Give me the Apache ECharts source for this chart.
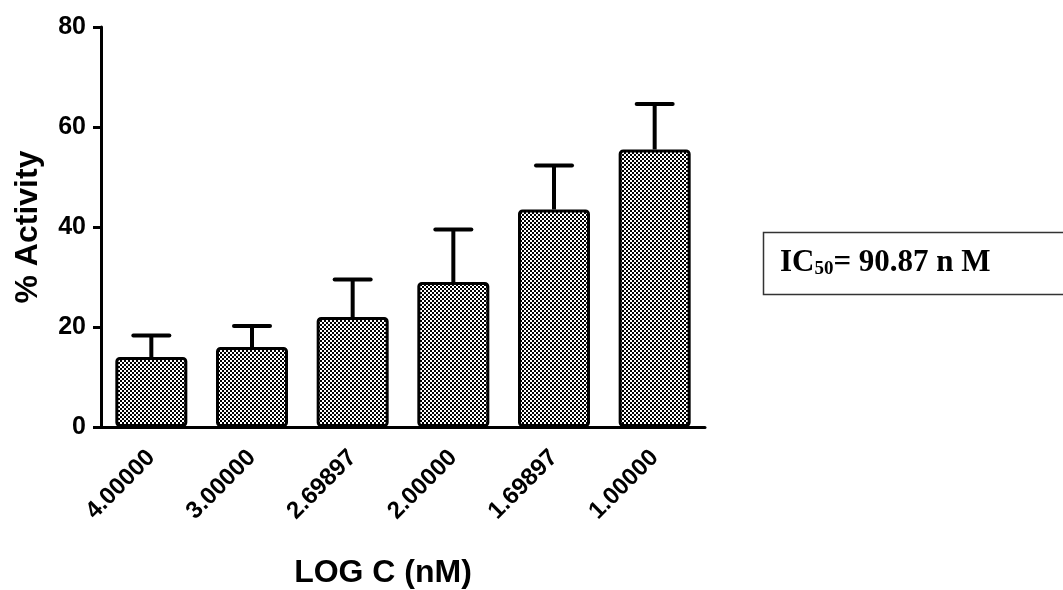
<!DOCTYPE html>
<html>
<head>
<meta charset="utf-8">
<script src="https://cdn.jsdelivr.net/npm/echarts@6/dist/echarts.min.js"></script>
<style>
  html, body { margin: 0; padding: 0; background: #fff; }
  #chart { width: 1063px; height: 590px; }
</style>
</head>
<body>
<div id="chart"></div>
<script>
// data
var categories = ['4.00000', '3.00000', '2.69897', '2.00000', '1.69897', '1.00000'];
var activity = [14.0, 16.0, 22.0, 29.0, 43.5, 55.5];
var upperError = [18.3, 20.2, 29.5, 39.5, 52.3, 64.6];
var yTicks = [0, 20, 40, 60, 80];

// checkered fill for the bars
function makePattern() {
  var c = document.createElement('canvas');
  c.width = 4; c.height = 4;
  var ctx = c.getContext('2d');
  ctx.fillStyle = '#fff';
  ctx.fillRect(0, 0, 4, 4);
  ctx.fillStyle = '#000';
  ctx.fillRect(0, 0, 2, 2);
  ctx.fillRect(2, 2, 2, 2);
  return c;
}

var chart = echarts.init(document.getElementById('chart'));
var font = 'Liberation Sans, Arial, sans-serif';

var errData = activity.map(function (v, i) { return [i, v, upperError[i]]; });

var option = {
  animation: false,
  grid: { left: 101, top: 27, width: 604, height: 400, outerBoundsMode: 'none', containLabel: false },
  xAxis: {
    type: 'category',
    data: categories,
    name: 'LOG C (nM)',
    nameLocation: 'middle',
    nameGap: 130,
    nameTextStyle: { fontFamily: font, fontWeight: 'bold', fontSize: 32, color: '#000', padding: [0, 40, 0, 0] },
    axisLine: { lineStyle: { color: '#000', width: 3 } },
    axisTick: { alignWithLabel: true, length: 12, lineStyle: { color: '#000', width: 3 } },
    axisLabel: { rotate: 45, margin: 27, fontFamily: font, fontWeight: 'bold', fontSize: 24, color: '#000' }
  },
  yAxis: {
    type: 'value',
    min: yTicks[0],
    max: yTicks[yTicks.length - 1],
    interval: 20,
    name: '% Activity',
    nameLocation: 'middle',
    nameGap: 57,
    nameTextStyle: { fontFamily: font, fontWeight: 'bold', fontSize: 32, color: '#000' },
    splitLine: { show: false },
    axisLine: { show: true, lineStyle: { color: '#000', width: 3 } },
    axisTick: { show: true, length: 8, lineStyle: { color: '#000', width: 3 } },
    axisLabel: { margin: 15, fontFamily: font, fontWeight: 'bold', fontSize: 25, color: '#000' }
  },
  series: [
    {
      type: 'bar',
      data: activity,
      barWidth: 72,
      itemStyle: {
        color: { image: makePattern(), repeat: 'repeat' },
        borderColor: '#000',
        borderWidth: 3,
        borderRadius: 3
      }
    },
    {
      type: 'custom',
      data: errData,
      z: 1,
      renderItem: function (params, api) {
        var base = api.coord([api.value(0), api.value(1)]);
        var top = api.coord([api.value(0), api.value(2)]);
        var half = 18;
        return {
          type: 'group',
          children: [
            { type: 'line', shape: { x1: base[0], y1: base[1], x2: top[0], y2: top[1] },
              style: { stroke: '#000', lineWidth: 4 } },
            { type: 'line', shape: { x1: top[0] - half, y1: top[1], x2: top[0] + half, y2: top[1] },
              style: { stroke: '#000', lineWidth: 4, lineCap: 'round' } }
          ]
        };
      }
    }
  ],
  graphic: [
    {
      type: 'rect',
      shape: { x: 763.5, y: 232.5, width: 310, height: 62 },
      style: { fill: '#fff', stroke: '#333', lineWidth: 1.5 }
    },
    {
      type: 'text',
      x: 780,
      y: 263,
      style: {
        text: '{a|IC}{b|50}{a|= 90.87 n M}',
        verticalAlign: 'middle',
        rich: {
          a: { fontFamily: 'Liberation Serif, Times New Roman, serif', fontWeight: 'bold', fontSize: 31, fill: '#000' },
          b: { fontFamily: 'Liberation Serif, Times New Roman, serif', fontWeight: 'bold', fontSize: 19, fill: '#000', verticalAlign: 'bottom', padding: [10, 0, 0, 0] }
        }
      }
    }
  ]
};

chart.setOption(option);
</script>
</body>
</html>
